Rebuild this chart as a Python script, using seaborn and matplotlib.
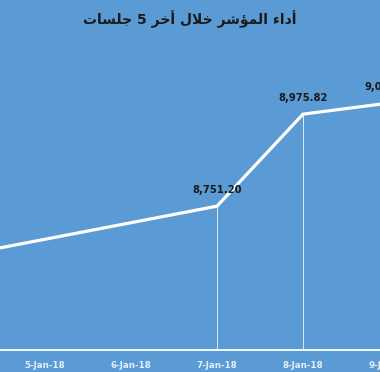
import matplotlib
matplotlib.use("Agg")
import matplotlib.pyplot as plt
import matplotlib.dates as mdates
import seaborn as sns
import pandas as pd
import numpy as np

# ---- data ----
dates = ["2018-01-04", "2018-01-07", "2018-01-08", "2018-01-09"]
values = [8630.0, 8751.20, 8975.82, 9003.0]
tick_dates = ["2018-01-04", "2018-01-05", "2018-01-06", "2018-01-07", "2018-01-08", "2018-01-09"]
title = "أداء المؤشر خلال أخر 5 جلسات"

# ---- minimal Arabic shaping (presentation forms) ----
FORMS = {
    '\u0621': ('\uFE80', None, None, None),
    '\u0622': ('\uFE81', '\uFE82', None, None),
    '\u0623': ('\uFE83', '\uFE84', None, None),
    '\u0624': ('\uFE85', '\uFE86', None, None),
    '\u0625': ('\uFE87', '\uFE88', None, None),
    '\u0626': ('\uFE89', '\uFE8A', '\uFE8B', '\uFE8C'),
    '\u0627': ('\uFE8D', '\uFE8E', None, None),
    '\u0628': ('\uFE8F', '\uFE90', '\uFE91', '\uFE92'),
    '\u0629': ('\uFE93', '\uFE94', None, None),
    '\u062A': ('\uFE95', '\uFE96', '\uFE97', '\uFE98'),
    '\u062B': ('\uFE99', '\uFE9A', '\uFE9B', '\uFE9C'),
    '\u062C': ('\uFE9D', '\uFE9E', '\uFE9F', '\uFEA0'),
    '\u062D': ('\uFEA1', '\uFEA2', '\uFEA3', '\uFEA4'),
    '\u062E': ('\uFEA5', '\uFEA6', '\uFEA7', '\uFEA8'),
    '\u062F': ('\uFEA9', '\uFEAA', None, None),
    '\u0630': ('\uFEAB', '\uFEAC', None, None),
    '\u0631': ('\uFEAD', '\uFEAE', None, None),
    '\u0632': ('\uFEAF', '\uFEB0', None, None),
    '\u0633': ('\uFEB1', '\uFEB2', '\uFEB3', '\uFEB4'),
    '\u0634': ('\uFEB5', '\uFEB6', '\uFEB7', '\uFEB8'),
    '\u0635': ('\uFEB9', '\uFEBA', '\uFEBB', '\uFEBC'),
    '\u0636': ('\uFEBD', '\uFEBE', '\uFEBF', '\uFEC0'),
    '\u0637': ('\uFEC1', '\uFEC2', '\uFEC3', '\uFEC4'),
    '\u0638': ('\uFEC5', '\uFEC6', '\uFEC7', '\uFEC8'),
    '\u0639': ('\uFEC9', '\uFECA', '\uFECB', '\uFECC'),
    '\u063A': ('\uFECD', '\uFECE', '\uFECF', '\uFED0'),
    '\u0641': ('\uFED1', '\uFED2', '\uFED3', '\uFED4'),
    '\u0642': ('\uFED5', '\uFED6', '\uFED7', '\uFED8'),
    '\u0643': ('\uFED9', '\uFEDA', '\uFEDB', '\uFEDC'),
    '\u0644': ('\uFEDD', '\uFEDE', '\uFEDF', '\uFEE0'),
    '\u0645': ('\uFEE1', '\uFEE2', '\uFEE3', '\uFEE4'),
    '\u0646': ('\uFEE5', '\uFEE6', '\uFEE7', '\uFEE8'),
    '\u0647': ('\uFEE9', '\uFEEA', '\uFEEB', '\uFEEC'),
    '\u0648': ('\uFEED', '\uFEEE', None, None),
    '\u0649': ('\uFEEF', '\uFEF0', None, None),
    '\u064A': ('\uFEF1', '\uFEF2', '\uFEF3', '\uFEF4'),
}
LAM_ALEF = {'\u0622': ('\uFEF5', '\uFEF6'), '\u0623': ('\uFEF7', '\uFEF8'),
            '\u0625': ('\uFEF9', '\uFEFA'), '\u0627': ('\uFEFB', '\uFEFC')}


def joins_next(c):
    return c in FORMS and FORMS[c][2] is not None


def shape(text):
    out = []
    chars = list(text)
    i = 0
    n = len(chars)
    while i < n:
        c = chars[i]
        prev = chars[i - 1] if i > 0 else ''
        if c not in FORMS:
            out.append(c)
            i += 1
            continue
        jp = joins_next(prev) and FORMS[c][1] is not None
        if c == '\u0644' and i + 1 < n and chars[i + 1] in LAM_ALEF:
            iso, fin = LAM_ALEF[chars[i + 1]]
            out.append(fin if jp else iso)
            i += 2
            continue
        nxt = chars[i + 1] if i + 1 < n else ''
        jn = joins_next(c) and nxt in FORMS and FORMS[nxt][1] is not None
        iso, fin, ini, med = FORMS[c]
        if jp and jn:
            out.append(med)
        elif jp:
            out.append(fin)
        elif jn:
            out.append(ini)
        else:
            out.append(iso)
        i += 1
    return ''.join(out)[::-1]


# ---- style ----
bg = "#5B9BD5"
sns.set_theme(style="white")
plt.rcParams['font.family'] = ['DejaVu Sans']

df = pd.DataFrame({"date": pd.to_datetime(dates), "value": values})

W, H = 380, 372
px_per_day = 86
ax_w_px = 470  # axes extend past the right edge (reference is a crop)
fig = plt.figure(figsize=(W / 100, H / 100), dpi=100, facecolor=bg)
ax = fig.add_axes([0, 22 / H, ax_w_px / W, 350 / H])
ax.set_facecolor(bg)

sns.lineplot(data=df, x="date", y="value", ax=ax, color="white", linewidth=2.3,
             solid_capstyle="butt")

ax.vlines(df["date"], 8400, df["value"], color="white", linewidth=0.7, alpha=0.8)

for d, v in zip(df["date"], df["value"]):
    ax.annotate(f"{v:,.2f}", (d, v), xytext=(0, 8), textcoords="offset points",
                ha="center", va="bottom", fontsize=7.2, fontweight="bold",
                color="#1a1a1a")

ax.set_xticks(pd.to_datetime(tick_dates))
ax.xaxis.set_major_formatter(mdates.DateFormatter("%-d-%b-%y"))
ax.tick_params(axis="x", length=0, pad=8, labelsize=6.3, labelcolor="#E3EEF9")
for lbl in ax.get_xticklabels():
    lbl.set_fontweight("bold")
ax.set_yticks([])

x0 = mdates.date2num(pd.Timestamp("2018-01-05")) - 45 / px_per_day
x1 = x0 + ax_w_px / px_per_day
ax.set_xlim(x0, x1)
ppu = 92 / (8975.82 - 8751.20)
ax.set_ylim(8400, 8400 + 350 / ppu)

ax.set_xlabel("")
ax.set_ylabel("")
for s in ["top", "left", "right"]:
    ax.spines[s].set_visible(False)
ax.spines["bottom"].set_color("white")
ax.spines["bottom"].set_linewidth(1.3)

fig.text(0.5, 1 - 19 / H, shape(title), ha="center", va="center",
         fontsize=10, fontweight="bold", color="#1a1a1a")

fig.savefig("out.png", dpi=100, facecolor=bg)
